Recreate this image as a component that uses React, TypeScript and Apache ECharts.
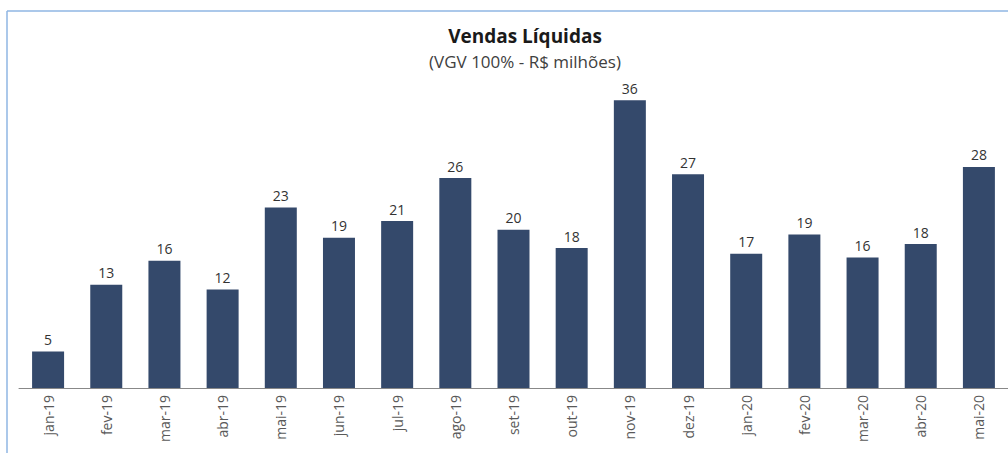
import React, { useEffect, useRef } from "react";
import * as echarts from "echarts";

const categories = ["jan-19", "fev-19", "mar-19", "abr-19", "mai-19", "jun-19", "jul-19", "ago-19", "set-19", "out-19", "nov-19", "dez-19", "jan-20", "fev-20", "mar-20", "abr-20", "mai-20"];
const vendas = [4.6, 13.0, 16.0, 12.4, 22.7, 18.9, 21.0, 26.4, 19.9, 17.6, 36.2, 26.9, 16.9, 19.3, 16.4, 18.1, 27.8];
const titleText = "Vendas Líquidas";
const subtitleText = "(VGV 100% - R$ milhões)";

export default function App() {
  const ref = useRef<HTMLDivElement>(null);
  useEffect(() => {
    if (!ref.current) return;
    const chart = echarts.init(ref.current, null, { renderer: "svg" });
    chart.setOption({
      animation: false,
      backgroundColor: "#ffffff",
      title: {
        text: titleText,
        subtext: subtitleText,
        left: 520,
        textAlign: "center",
        top: 21,
        itemGap: 8,
        textStyle: { fontFamily: "Open Sans", fontSize: 19, fontWeight: "bold", color: "#1a1a1a" },
        subtextStyle: { fontFamily: "Open Sans", fontSize: 17, color: "#404040" },
      },
      graphic: [
        { type: "line", shape: { x1: 7, y1: 11, x2: 1008, y2: 11 }, style: { stroke: "#8fb6e3", lineWidth: 1.5 } },
        { type: "line", shape: { x1: 7, y1: 11, x2: 7, y2: 453 }, style: { stroke: "#8fb6e3", lineWidth: 1.5 } },
      ],
      grid: { left: 19, right: -3, top: 70, bottom: 65 },
      xAxis: {
        type: "category",
        data: categories,
        axisLine: { lineStyle: { color: "#888888", width: 1 } },
        axisTick: { show: false },
        axisLabel: { rotate: 90, fontFamily: "Open Sans", fontSize: 14, color: "#595959", margin: 7, interval: 0 },
      },
      yAxis: { type: "value", min: 0, max: 40, show: false, splitLine: { show: false } },
      series: [
        {
          type: "bar",
          data: vendas,
          barWidth: 32,
          itemStyle: { color: "#34496b" },
          label: {
            show: true,
            position: "top",
            distance: 5,
            fontFamily: "Open Sans",
            fontSize: 14,
            color: "#333333",
            formatter: (p: any) => String(Math.round(p.value)),
          },
        },
      ],
    });
    return () => chart.dispose();
  }, []);
  return <div ref={ref} style={{ position: "absolute", left: 0, top: 0, width: 1008, height: 453 }} />;
}
